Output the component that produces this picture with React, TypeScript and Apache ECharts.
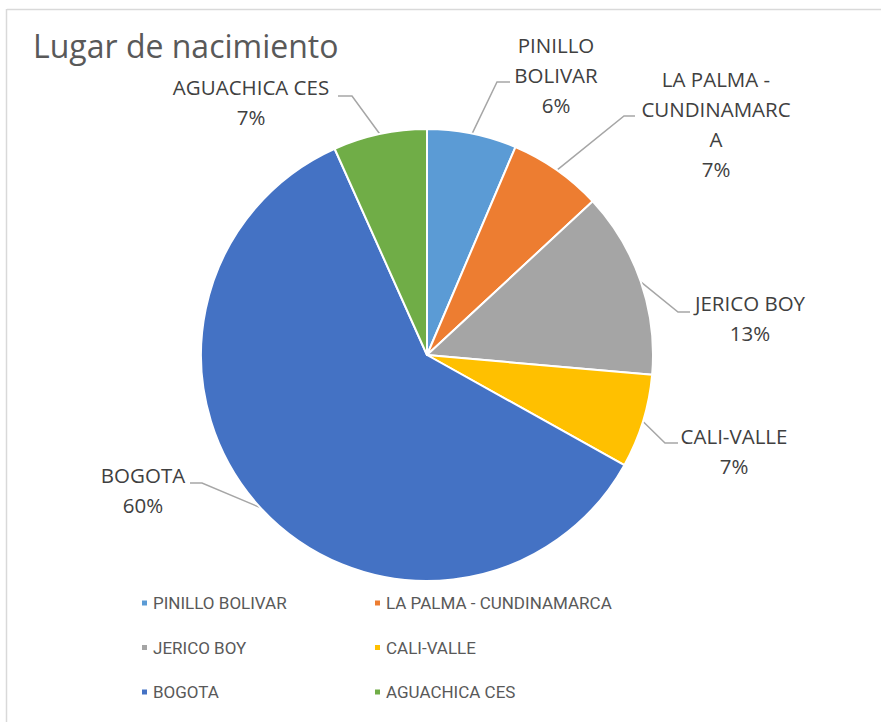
import React, { useEffect, useRef } from "react";
import * as echarts from "echarts";

const categories = [
  "PINILLO BOLIVAR",
  "LA PALMA - CUNDINAMARCA",
  "JERICO BOY",
  "CALI-VALLE",
  "BOGOTA",
  "AGUACHICA CES",
];
const values = [6.4, 6.7, 13.3, 6.7, 60.2, 6.7];
const labelTexts = [
  "PINILLO\nBOLIVAR",
  "LA PALMA -\nCUNDINAMARC\nA",
  "JERICO BOY",
  "CALI-VALLE",
  "BOGOTA",
  "AGUACHICA CES",
];
const colors = ["#5B9BD5", "#ED7D31", "#A5A5A5", "#FFC000", "#4472C4", "#70AD47"];

// label layout: text block centre, leader end x, elbow x, leader y
const labelLayoutCfg = [
  { cx: 556, cy: 75, endX: 510, elbowX: 497, ly: 82 },
  { cx: 716, cy: 124, endX: 635, elbowX: 624, ly: 116 },
  { cx: 750, cy: 318, endX: 690, elbowX: 678, ly: 312 },
  { cx: 734, cy: 451, endX: 678, elbowX: 665, ly: 443 },
  { cx: 143, cy: 490, endX: 190, elbowX: 202, ly: 483 },
  { cx: 251, cy: 102, endX: 338, elbowX: 352, ly: 96 },
];

const FONT = "'Open Sans', 'Noto Sans', sans-serif";
const LEGEND_FONT = "Roboto, 'Open Sans', sans-serif";

export default function App() {
  const ref = useRef<HTMLDivElement>(null);
  useEffect(() => {
    if (!ref.current) return;
    const chart = echarts.init(ref.current, undefined, { renderer: "svg" });
    const data = categories.map((name, i) => ({
      name,
      value: values[i],
      itemStyle: { color: colors[i] },
    }));
    const legendText = { fontFamily: LEGEND_FONT, fontSize: 17, color: "#595959", lineHeight: 20 };
    chart.setOption({
      animation: false,
      backgroundColor: "#ffffff",
      title: {
        text: "Lugar de nacimiento",
        left: 28,
        top: 24,
        textStyle: { fontFamily: FONT, fontSize: 32, fontWeight: "normal", color: "#595959" },
      },
      legend: [
        {
          orient: "vertical",
          left: 135,
          top: 588,
          itemWidth: 7,
          itemHeight: 7,
          itemGap: 24.5,
          icon: "rect",
          data: [categories[0], categories[2], categories[4]],
          textStyle: legendText,
        },
        {
          orient: "vertical",
          left: 368,
          top: 588,
          itemWidth: 7,
          itemHeight: 7,
          itemGap: 24.5,
          icon: "rect",
          data: [categories[1], categories[3], categories[5]],
          textStyle: legendText,
        },
      ],
      graphic: [
        { type: "line", shape: { x1: 7, y1: 9.5, x2: 881, y2: 9.5 }, style: { stroke: "#d9d9d9", lineWidth: 1.5 } },
        { type: "line", shape: { x1: 6.5, y1: 9, x2: 6.5, y2: 722 }, style: { stroke: "#d9d9d9", lineWidth: 1.5 } },
      ],
      series: [
        {
          type: "pie",
          center: [427, 355],
          radius: 226,
          startAngle: 90,
          clockwise: true,
          avoidLabelOverlap: false,
          percentPrecision: 0,
          data,
          itemStyle: { borderColor: "#ffffff", borderWidth: 2 },
          label: {
            show: true,
            position: "outside",
            fontFamily: FONT,
            fontSize: 20.5,
            color: "#404040",
            lineHeight: 30,
            align: "center",
            formatter: (p: any) => labelTexts[p.dataIndex] + "\n" + p.percent + "%",
          },
          labelLine: {
            show: true,
            length: 10,
            length2: 10,
            lineStyle: { color: "#A6A6A6", width: 1.5 },
          },
          labelLayout: (params: any) => {
            const cfg = labelLayoutCfg[params.dataIndex];
            const pts = params.labelLinePoints;
            const p0 = pts && pts[0] ? pts[0] : [cfg.elbowX, cfg.ly];
            return {
              x: cfg.cx,
              y: cfg.cy,
              align: "center",
              verticalAlign: "middle",
              labelLinePoints: [
                [p0[0], p0[1]],
                [cfg.elbowX, cfg.ly],
                [cfg.endX, cfg.ly],
              ],
            };
          },
        },
      ],
    });
    return () => chart.dispose();
  }, []);
  return (
    <div
      ref={ref}
      style={{ position: "absolute", left: 0, top: 0, width: 881, height: 722 }}
    />
  );
}
